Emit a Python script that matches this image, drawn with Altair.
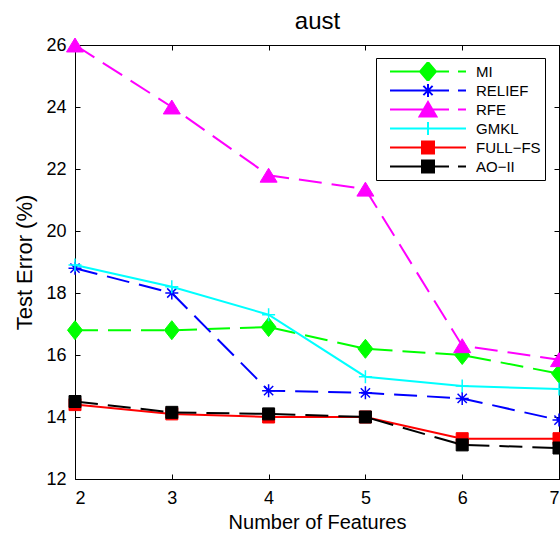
import altair as alt
import pandas as pd

# ---------------- data ----------------
features = [2, 3, 4, 5, 6, 7]
methods = ["MI", "RELIEF", "RFE", "GMKL", "FULL−FS", "AO−II"]
mi_err = [16.8, 16.8, 16.9, 16.2, 16.0, 15.4]
relief_err = [18.8, 18.0, 14.85, 14.78, 14.6, 13.9]
rfe_err = [26.0, 24.0, 21.8, 21.35, 16.3, 15.85]
gmkl_err = [18.9, 18.2, 17.3, 15.3, 15.0, 14.9]
fullfs_err = [14.4, 14.1, 14.0, 14.0, 13.3, 13.3]
aoii_err = [14.5, 14.15, 14.1, 14.0, 13.1, 13.0]
x_ticks = [2, 3, 4, 5, 6, 7]
y_ticks = [12, 14, 16, 18, 20, 22, 24, 26]
chart_title = "aust"

series = [mi_err, relief_err, rfe_err, gmkl_err, fullfs_err, aoii_err]
rows = []
for name, vals in zip(methods, series):
    for f, v in zip(features, vals):
        rows.append({"features": f, "error": v, "method": name})
df = pd.DataFrame(rows)

# ---------------- styles ----------------
W, H = 484, 434
FONT = "Liberation Sans"
DASH = [23, 10]

DIAMOND = "M0,-1L0.79,0L0,1L-0.79,0Z"
TRIANGLE = "M0,-0.82L1,0.82L-1,0.82Z"
SQUARE = "M-1,-1H1V1H-1Z"
ASTER = "M-1,0H1M0,-1V1M-0.71,-0.71L0.71,0.71M-0.71,0.71L0.71,-0.71"
PLUS = "M-1,0H1M0,-1V1"

styles = {
    "MI": dict(color="#00ff00", dash=True, marker=DIAMOND, size=361, msw=1),
    "RELIEF": dict(color="#0000ff", dash=True, marker=ASTER, size=169, msw=1.5),
    "RFE": dict(color="#ff00ff", dash=True, marker=TRIANGLE, size=289, msw=1),
    "GMKL": dict(color="#00ffff", dash=False, marker=PLUS, size=169, msw=1.5),
    "FULL−FS": dict(color="#ff0000", dash=False, marker=SQUARE, size=144, msw=1),
    "AO−II": dict(color="#000000", dash=True, marker=SQUARE, size=144, msw=1),
}

# legend symbol paths (unit = 47 px): line sample with marker in the middle
L = 0.809
def leg_line(dashed):
    if dashed:
        return f"M{-L},0H0.447M0.638,0H{L}"
    return f"M{-L},0H{L}"

leg_markers = {
    "MI": "M0,-0.2L0.17,0L0,0.2L-0.17,0Z",
    "RELIEF": "M-0.138,0H0.138M0,-0.138V0.138M-0.098,-0.098L0.098,0.098M-0.098,0.098L0.098,-0.098",
    "RFE": "M0,-0.16L0.18,0.15L-0.18,0.15Z",
    "GMKL": "M-0.138,0H0.138M0,-0.138V0.138",
    "FULL−FS": "M-0.128,-0.128H0.128V0.128H-0.128Z",
    "AO−II": "M-0.128,-0.128H0.128V0.128H-0.128Z",
}
legend_paths = [leg_line(styles[m]["dash"]) + leg_markers[m] for m in methods]
colors = [styles[m]["color"] for m in methods]

xs = alt.Scale(domain=[2, 7], nice=False, zero=False)
ys = alt.Scale(domain=[12, 26], nice=False, zero=False)

base = alt.Chart(df)

layers = []
for name in methods:
    st = styles[name]
    sub = base.transform_filter(alt.datum.method == name)
    line_kw = dict(color=st["color"], strokeWidth=2)
    if st["dash"]:
        line_kw["strokeDash"] = DASH
    line = sub.mark_line(**line_kw).encode(
        x=alt.X("features:Q", scale=xs, axis=None),
        y=alt.Y("error:Q", scale=ys, axis=None),
    )
    pts = sub.mark_point(
        shape=st["marker"], size=st["size"], filled=True, fill=st["color"],
        stroke=st["color"], strokeWidth=st["msw"], opacity=1,
    ).encode(
        x=alt.X("features:Q", scale=xs, axis=None),
        y=alt.Y("error:Q", scale=ys, axis=None),
    )
    layers += [line, pts]

empty = base.transform_filter("false")

label_layer = empty.mark_point(opacity=0).encode(
    x=alt.X("features:Q", scale=xs, title="Number of Features",
            axis=alt.Axis(values=x_ticks, orient="bottom", ticks=False, tickSize=0,
                          domain=False, grid=False, labelPadding=10, titlePadding=5,
                          format="d")),
    y=alt.Y("error:Q", scale=ys, title="Test Error (%)",
            axis=alt.Axis(values=y_ticks, orient="left", ticks=False, tickSize=0,
                          domain=False, grid=False, labelPadding=9, titlePadding=9,
                          titleFontSize=22, format="d")),
)

tick_a = empty.mark_point(opacity=0).encode(
    x=alt.X("features:Q", scale=xs, title=None,
            axis=alt.Axis(values=x_ticks, orient="top", offset=-H, labels=False,
                          domain=False, grid=False, tickSize=5)),
    y=alt.Y("error:Q", scale=ys, title=None,
            axis=alt.Axis(values=y_ticks, orient="right", offset=-W, labels=False,
                          domain=False, grid=False, tickSize=5)),
)
tick_b = empty.mark_point(opacity=0).encode(
    x=alt.X("features:Q", scale=xs, title=None,
            axis=alt.Axis(values=x_ticks, orient="bottom", offset=-H, labels=False,
                          domain=False, grid=False, tickSize=5)),
    y=alt.Y("error:Q", scale=ys, title=None,
            axis=alt.Axis(values=y_ticks, orient="left", offset=-W, labels=False,
                          domain=False, grid=False, tickSize=5)),
)

# chart title drawn as the title of a bare top axis (keeps it at a fixed distance from the frame)
title_layer = empty.mark_point(opacity=0).encode(
    x=alt.X("features:Q", scale=xs, title=chart_title,
            axis=alt.Axis(orient="top", ticks=False, labels=False, domain=False,
                          grid=False, titleFontSize=24, titlePadding=17,
                          titleBaseline="alphabetic", minExtent=0)),
)

legend_layer = empty.mark_point(filled=True, opacity=1).encode(
    fill=alt.Fill("method:N", scale=alt.Scale(domain=methods, range=colors),
                  legend=alt.Legend(title=None, orient="none", legendX=301, legendY=13)),
    stroke=alt.Stroke("method:N", scale=alt.Scale(domain=methods, range=colors),
                      legend=alt.Legend(title=None, orient="none", legendX=301, legendY=13)),
    shape=alt.Shape("method:N", scale=alt.Scale(domain=methods, range=legend_paths),
                    legend=alt.Legend(title=None, orient="none", legendX=301, legendY=13)),
)

chart = (
    alt.layer(*layers, label_layer, tick_a, tick_b, title_layer, legend_layer)
    .resolve_axis(x="independent", y="independent")
    .properties(
        width=W, height=H,
        autosize=alt.AutoSizeParams(type="none"),
        padding={"left": 75, "top": 45, "right": 1, "bottom": 59},
    )
    .configure_view(stroke="black", strokeWidth=1)
    .configure_axis(
        labelFont=FONT, labelFontSize=18, labelColor="black",
        titleFont=FONT, titleFontSize=20, titleFontWeight="normal", titleColor="black",
        tickColor="black", tickWidth=1,
    )
    .configure_legend(
        padding=4, strokeColor="black", fillColor="white", cornerRadius=0,
        symbolSize=8836, symbolStrokeWidth=2, clipHeight=19, rowPadding=0,
        labelFont=FONT, labelFontSize=15, labelColor="black", labelOffset=0,
        symbolOpacity=1,
    )
)

chart.save("out.html", embed_options={"renderer": "svg", "actions": False})
